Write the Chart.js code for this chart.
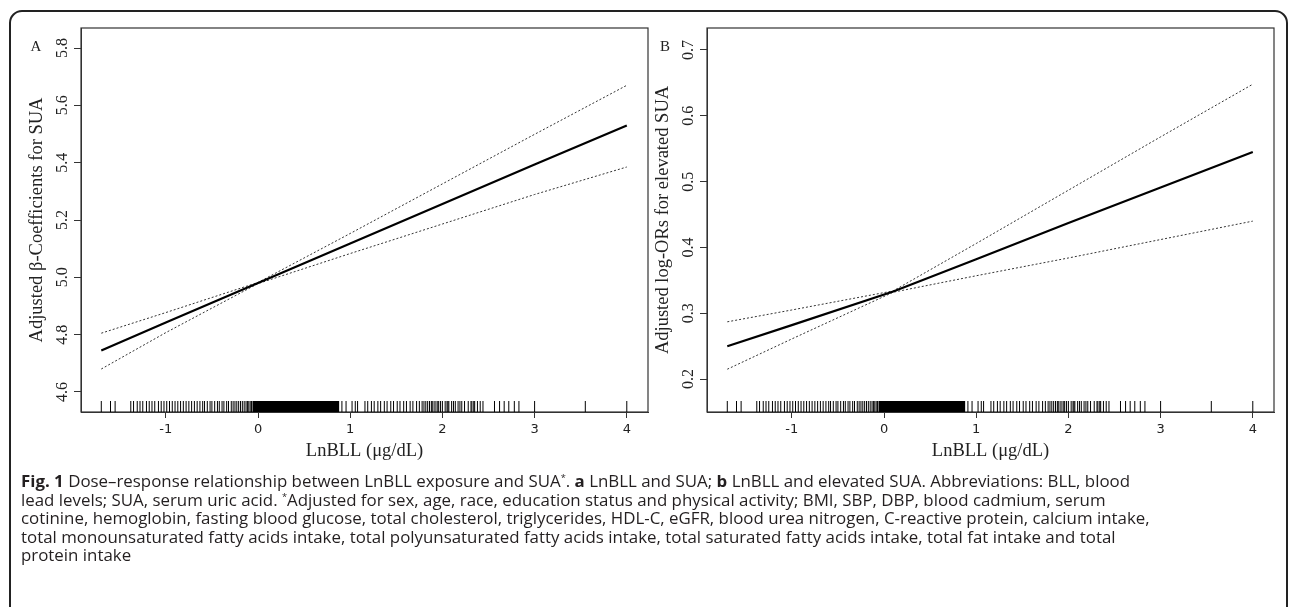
<!DOCTYPE html>
<html>
<head>
<meta charset="utf-8">
<script src="https://cdn.jsdelivr.net/npm/chart.js@4.4.1/dist/chart.umd.min.js"></script>
<style>
  html, body { margin: 0; padding: 0; background: #fff; }
  body { width: 1290px; height: 607px; position: relative; overflow: hidden; }
  .frame { position: absolute; left: 9px; top: 10px; width: 1279px; height: 640px; border: 2px solid #222; border-radius: 13px; box-sizing: border-box; }
  canvas { position: absolute; top: 12px; }
  #panelA { left: 10px; }
  #panelB { left: 636px; }
  .caption { position: absolute; left: 21px; top: 472px; font-family: "Open Sans", "Noto Sans", sans-serif; font-size: 16.5px; line-height: 18.5px; color: #231f20; white-space: nowrap; transform-origin: 0 0; }
  .caption div { display: table; }
  .caption sup { font-size: 9px; line-height: 0; vertical-align: 6px; }
</style>
</head>
<body>
<div class="frame"></div>
<canvas id="panelA" width="645" height="458"></canvas>
<canvas id="panelB" width="645" height="458"></canvas>
<div class="caption" id="caption">
  <div id="capLine1"><b>Fig. 1</b> Dose–response relationship between LnBLL exposure and SUA<sup>*</sup>. <b>a</b> LnBLL and SUA; <b>b</b> LnBLL and elevated SUA. Abbreviations: BLL, blood</div>
  <div>lead levels; SUA, serum uric acid. <sup>*</sup>Adjusted for sex, age, race, education status and physical activity; BMI, SBP, DBP, blood cadmium, serum</div>
  <div>cotinine, hemoglobin, fasting blood glucose, total cholesterol, triglycerides, HDL-C, eGFR, blood urea nitrogen, C-reactive protein, calcium intake,</div>
  <div>total monounsaturated fatty acids intake, total polyunsaturated fatty acids intake, total saturated fatty acids intake, total fat intake and total</div>
  <div>protein intake</div>
</div>
<script>
// Dose-response of LnBLL vs SUA (panel A) and elevated SUA (panel B)

const xTicks = [-1, 0, 1, 2, 3, 4];
const xMin = -1.92, xMax = 4.23;

// Panel A: adjusted beta-coefficients
const lnbllA = [-1.7, -1, 0, 1, 2, 3, 4];
const fitA = [4.745, 4.842, 4.980, 5.118, 5.256, 5.394, 5.530];
const upperA = [4.805, 4.877, 4.982, 5.153, 5.326, 5.499, 5.670];
const lowerA = [4.680, 4.807, 4.978, 5.083, 5.186, 5.289, 5.385];
const yTicksA = [4.6, 4.8, 5.0, 5.2, 5.4, 5.6, 5.8];

// Panel B: adjusted log-ORs
const lnbllB = [-1.7, -1, 0.1, 1, 2, 3, 4];
const fitB = [0.250, 0.282, 0.333, 0.382, 0.437, 0.491, 0.545];
const upperB = [0.287, 0.305, 0.334, 0.406, 0.487, 0.568, 0.648];
const lowerB = [0.215, 0.261, 0.332, 0.357, 0.384, 0.412, 0.440];
const yTicksB = [0.2, 0.3, 0.4, 0.5, 0.6, 0.7];

// Rug of observed LnBLL values (same in both panels)
const rugTicks = [
  -1.70, -1.60, -1.55,
  -1.38, -1.35, -1.31, -1.28, -1.25, -1.21, -1.18, -1.15, -1.12, -1.08, -1.05, -1.02,
  -0.99, -0.96, -0.93, -0.90, -0.87, -0.84, -0.81, -0.78, -0.75, -0.72, -0.69, -0.66,
  -0.63, -0.60, -0.58, -0.55, -0.52, -0.50, -0.47, -0.44, -0.42, -0.39, -0.37, -0.34,
  -0.32, -0.29, -0.27, -0.25, -0.23, -0.21, -0.19, -0.17, -0.15, -0.13, -0.115, -0.10,
  -0.085, -0.07,
  0.91, 0.955, 1.02, 1.055, 1.08,
  1.16, 1.19, 1.23, 1.26, 1.30, 1.33, 1.37, 1.40, 1.44, 1.47, 1.51, 1.54, 1.58, 1.61,
  1.65, 1.68, 1.72, 1.75, 1.78, 1.80, 1.82, 1.84, 1.86, 1.88, 1.89, 1.91, 1.93, 1.95,
  1.96, 1.98, 2.00, 2.03, 2.05, 2.06, 2.07, 2.10, 2.12, 2.14, 2.17, 2.19, 2.21, 2.24,
  2.28, 2.31, 2.32, 2.34, 2.35, 2.38,
  2.41, 2.44, 2.565, 2.62, 2.67, 2.72, 2.78, 2.83, 3.00, 3.55, 4.00
];
const rugBands = [[-0.06, 0.88]];

const SERIF = '"Liberation Serif", "Times New Roman", serif';
const INK = "#222";

const panelDecor = {
  id: "panelDecor",
  afterDraw(chart, args, opts) {
    const { ctx, chartArea: a, scales: { x, y } } = chart;
    ctx.save();
    // box around the plot region
    ctx.strokeStyle = "#333";
    ctx.lineWidth = 1.2;
    ctx.strokeRect(a.left, a.top, a.right - a.left, a.bottom - a.top);

    // rug
    ctx.strokeStyle = "#000";
    ctx.lineWidth = 1;
    rugTicks.forEach((v) => {
      const px = x.getPixelForValue(v);
      ctx.beginPath();
      ctx.moveTo(px, a.bottom);
      ctx.lineTo(px, a.bottom - 11);
      ctx.stroke();
    });
    ctx.fillStyle = "#000";
    rugBands.forEach(([v0, v1]) => {
      const p0 = x.getPixelForValue(v0);
      const p1 = x.getPixelForValue(v1);
      ctx.fillRect(p0, a.bottom - 11, p1 - p0, 11);
    });

    // y tick labels, rotated like base R
    ctx.fillStyle = INK;
    ctx.font = `16px ${SERIF}`;
    ctx.textAlign = "center";
    ctx.textBaseline = "middle";
    y.ticks.forEach((t) => {
      const py = y.getPixelForValue(t.value);
      ctx.save();
      ctx.translate(a.left - 18, py);
      ctx.rotate(-Math.PI / 2);
      ctx.fillText(t.value.toFixed(1), 0, 0);
      ctx.restore();
    });

    // panel letter
    ctx.font = `15px ${SERIF}`;
    ctx.fillText(opts.letter, opts.letterX, 35);
    ctx.restore();
  },
};

function toPoints(xs, ys) {
  return xs.map((v, i) => ({ x: v, y: ys[i] }));
}

function makePanel(id, xs, fit, upper, lower, yTicks, yMin, yMax, yTitle, letter, letterX) {
  const dotted = { borderColor: "#333", borderWidth: 1, borderDash: [2, 2] };
  new Chart(document.getElementById(id), {
    type: "line",
    data: {
      datasets: [
        { data: toPoints(xs, fit), borderColor: "#000", borderWidth: 2.2 },
        { data: toPoints(xs, upper), ...dotted },
        { data: toPoints(xs, lower), ...dotted },
      ],
    },
    options: {
      responsive: false,
      animation: false,
      devicePixelRatio: 1,
      layout: { padding: { left: 0, right: 7, top: 16, bottom: 0 } },
      elements: { point: { radius: 0 }, line: { tension: 0 } },
      plugins: {
        legend: { display: false },
        tooltip: { enabled: false },
        panelDecor: { letter, letterX },
      },
      scales: {
        x: {
          type: "linear",
          min: xMin,
          max: xMax,
          afterBuildTicks: (s) => { s.ticks = xTicks.map((v) => ({ value: v })); },
          afterFit: (s) => { s.height = 58; },
          grid: { drawOnChartArea: false, drawTicks: true, tickLength: 6, color: "#333" },
          border: { display: true, color: "#333" },
          ticks: {
            autoSkip: false,
            maxRotation: 0,
            padding: 4,
            color: INK,
            font: { family: '"DejaVu Sans", sans-serif', size: 13 },
            callback: (v) => String(v),
          },
          title: { display: true, text: "LnBLL (μg/dL)", color: INK, font: { family: SERIF, size: 18.5 }, padding: 8 },
        },
        y: {
          type: "linear",
          min: yMin,
          max: yMax,
          afterBuildTicks: (s) => { s.ticks = yTicks.map((v) => ({ value: v })); },
          afterFit: (s) => { s.width = 71; },
          grid: { drawOnChartArea: false, drawTicks: true, tickLength: 7, color: "#333" },
          border: { display: true, color: "#333" },
          ticks: { display: false },
          title: { display: true, text: yTitle, color: INK, font: { family: SERIF, size: 18.5 }, padding: 16 },
        },
      },
    },
    plugins: [panelDecor],
  });
}

makePanel("panelA", lnbllA, fitA, upperA, lowerA, yTicksA, 4.53, 5.87, "Adjusted β-Coefficients for SUA", "A", 26);
makePanel("panelB", lnbllB, fitB, upperB, lowerB, yTicksB, 0.15, 0.7334, "Adjusted log-ORs for elevated SUA", "B", 29);

// squeeze caption so the first line spans the same width as in the figure
const cap = document.getElementById("caption");
const w = document.getElementById("capLine1").getBoundingClientRect().width;
cap.style.transform = `scaleX(${1109 / w})`;
</script>
</body>
</html>
